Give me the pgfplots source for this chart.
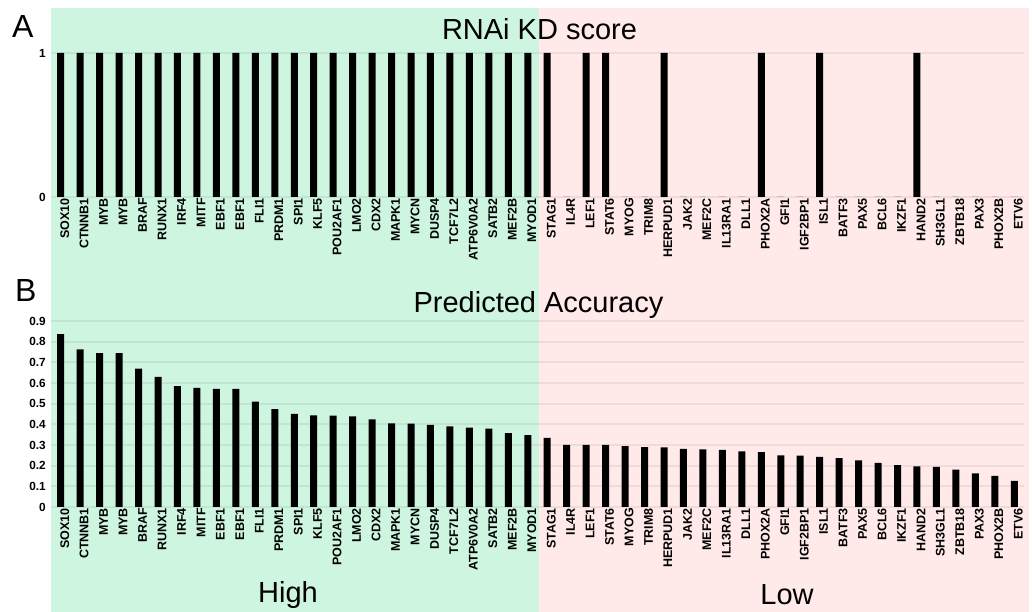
\documentclass[border=0pt]{standalone}
\usepackage{pgfplots}
\pgfplotsset{compat=1.18}
\usepackage{fontspec}
\setmainfont{Liberation Sans}
\definecolor{hiBG}{RGB}{205,245,224}
\definecolor{loBG}{RGB}{255,233,233}

\pgfplotstableread{
x y
0 1
1 1
2 1
3 1
4 1
5 1
6 1
7 1
8 1
9 1
10 1
11 1
12 1
13 1
14 1
15 1
16 1
17 1
18 1
19 1
20 1
21 1
22 1
23 1
24 1
25 1
26 0
27 1
28 1
29 0
30 0
31 1
32 0
33 0
34 0
35 0
36 1
37 0
38 0
39 1
40 0
41 0
42 0
43 0
44 1
45 0
46 0
47 0
48 0
49 0
}\kdtable

\pgfplotstableread{
x y
0 0.837
1 0.763
2 0.744
3 0.744
4 0.669
5 0.630
6 0.585
7 0.576
8 0.571
9 0.571
10 0.510
11 0.474
12 0.450
13 0.443
14 0.442
15 0.439
16 0.424
17 0.405
18 0.403
19 0.397
20 0.390
21 0.384
22 0.379
23 0.358
24 0.348
25 0.334
26 0.300
27 0.300
28 0.300
29 0.295
30 0.290
31 0.289
32 0.281
33 0.279
34 0.276
35 0.269
36 0.266
37 0.250
38 0.248
39 0.243
40 0.237
41 0.226
42 0.214
43 0.203
44 0.197
45 0.194
46 0.181
47 0.163
48 0.150
49 0.127
}\acctable

\pgfplotsset{
  panel/.style={
    scale only axis,
    width=973pt,
    xmin=-0.5, xmax=49.5,
    ymin=0,
    axis line style={draw=none},
    tick style={draw=none},
    xtick={0,...,49},
    xticklabels={SOX10,CTNNB1,MYB,MYB,BRAF,RUNX1,IRF4,MITF,EBF1,EBF1,FLI1,PRDM1,SPI1,KLF5,POU2AF1,LMO2,CDX2,MAPK1,MYCN,DUSP4,TCF7L2,ATP6V0A2,SATB2,MEF2B,MYOD1,STAG1,IL4R,LEF1,STAT6,MYOG,TRIM8,HERPUD1,JAK2,MEF2C,IL13RA1,DLL1,PHOX2A,GFI1,IGF2BP1,ISL1,BATF3,PAX5,BCL6,IKZF1,HAND2,SH3GL1,ZBTB18,PAX3,PHOX2B,ETV6},
    xticklabel style={rotate=90, anchor=east, font=\fontsize{12.5}{13}\selectfont\bfseries, inner sep=1pt, yshift=-4pt},
    yticklabel style={font=\fontsize{11.8}{12}\selectfont\bfseries, inner sep=1pt, xshift=-4pt},
    /pgf/number format/assume math mode=true,
    ymajorgrids,
    major grid style={draw=black, opacity=0.06, line width=2pt},
    axis on top=false,
    clip=false,
  }
}

\begin{document}
\begin{tikzpicture}[x=1pt,y=1pt]
\path[use as bounding box] (0,0) rectangle (1032,612);
\fill[hiBG] (51,0) rectangle (539,604);
\fill[loBG] (539,0) rectangle (1029,604);

\begin{axis}[panel, at={(51pt,415pt)}, anchor=south west, height=144pt,
  ymax=1, ytick={0,1}]
\addplot[ybar, bar width=7pt, fill=black, draw=none] table[x=x, y=y] {\kdtable};
\end{axis}

\begin{axis}[panel, at={(51pt,105pt)}, anchor=south west, height=186pt,
  ymax=0.9, ytick={0,0.1,...,0.9},
  yticklabel style={/pgf/number format/fixed, /pgf/number format/precision=1}]
\addplot[ybar, bar width=7pt, fill=black, draw=none] table[x=x, y=y] {\acctable};
\end{axis}

\node[anchor=base, font=\fontsize{29}{30}\selectfont] at (539.5,572) {RNAi KD score};
\node[anchor=base, font=\fontsize{29}{30}\selectfont] at (538.5,299) {Predicted Accuracy};
\node[anchor=base west, font=\fontsize{32}{34}\selectfont, inner sep=0pt] at (12,574) {A};
\node[anchor=base west, font=\fontsize{32}{34}\selectfont, inner sep=0pt] at (15,310) {B};
\node[anchor=base, font=\fontsize{29}{30}\selectfont] at (288,9) {High};
\node[anchor=base, font=\fontsize{29}{30}\selectfont] at (787,7) {Low};
\end{tikzpicture}
\end{document}
